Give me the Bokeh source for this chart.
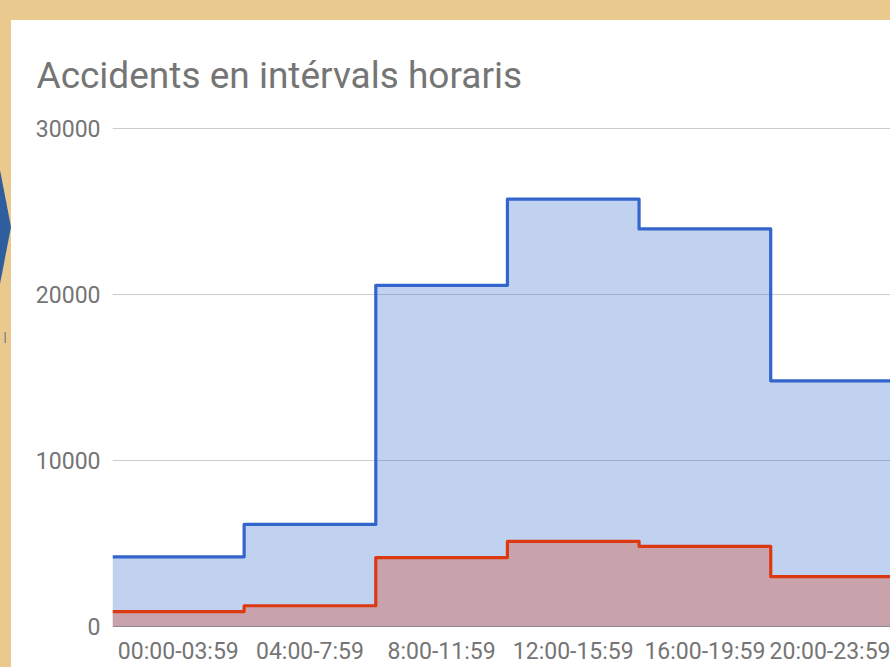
from bokeh.plotting import figure
from bokeh.models import FixedTicker, Span, Range1d, Div
from bokeh.layouts import row
from bokeh.embed import file_html
from bokeh.resources import INLINE

categories = ["00:00-03:59", "04:00-7:59", "8:00-11:59", "12:00-15:59", "16:00-19:59", "20:00-23:59"]
total = [4200, 6150, 20550, 25750, 23950, 14800]
serious = [900, 1250, 4150, 5130, 4830, 3000]
y_ticks = [0, 10000, 20000, 30000]

edges = list(range(len(categories) + 1))
total_s = total + [total[-1]]
serious_s = serious + [serious[-1]]

TAN = "#E9C98D"
BLUE = "#3366CC"
RED = "#DC3912"
GRAY = "#757575"

p = figure(width=879, height=647, output_backend="svg", toolbar_location=None,
           x_range=Range1d(0, 5.91), y_range=Range1d(0, 30060),
           title="Accidents en intérvals horaris",
           min_border_left=101, min_border_right=0, min_border_top=107, min_border_bottom=40)
p.margin = (20, 0, 0, 0)
p.styles = {"background-color": "white"}
p.border_fill_color = "white"
p.background_fill_color = "white"
p.outline_line_color = None

p.title.text_font = "Roboto"
p.title.text_font_size = "37px"
p.title.text_font_style = "normal"
p.title.text_color = GRAY
p.title.align = "left"
p.title.offset = -76
p.title.standoff = 62

p.varea_step(x=edges, y1=0, y2=total_s, step_mode="after", fill_color=BLUE, fill_alpha=0.3)
p.varea_step(x=edges, y1=0, y2=serious_s, step_mode="after", fill_color=RED, fill_alpha=0.3)
p.add_layout(Span(location=0, dimension="width", line_color="#333333", line_width=1))
p.step(x=edges, y=total_s, mode="after", line_color=BLUE, line_width=3.2, line_join="round")
p.step(x=edges, y=serious_s, mode="after", line_color=RED, line_width=3.2, line_join="round")

p.yaxis.ticker = FixedTicker(ticks=y_ticks)
p.xaxis.ticker = FixedTicker(ticks=[i + 0.5 for i in range(len(categories))])
p.xaxis.major_label_overrides = {i + 0.5: c for i, c in enumerate(categories)}
for ax in (p.xaxis, p.yaxis):
    ax.axis_line_color = None
    ax.major_tick_line_color = None
    ax.minor_tick_line_color = None
    ax.major_tick_out = 0
    ax.major_tick_in = 0
    ax.major_label_text_font = "Roboto"
    ax.major_label_text_font_size = "23px"
    ax.major_label_text_color = GRAY
p.yaxis.major_label_standoff = 12
p.xaxis.major_label_standoff = 11
p.yaxis.formatter.use_scientific = False

p.xgrid.grid_line_color = None
p.ygrid.ticker = FixedTicker(ticks=y_ticks[1:])
p.ygrid.grid_line_color = "#CCCCCC"
p.ygrid.grid_line_width = 1

side = Div(text='<svg width="11" height="667" style="display:block">'
                '<polygon points="0,170 11,227 0,284" fill="#2E5E9E"/>'
                '<rect x="4.5" y="332" width="1.5" height="11" fill="#8A8A8A"/></svg>',
           width=11, height=667, margin=(0, 0, 0, 0))

layout = row(side, p, styles={"background-color": TAN})

open("out.html", "w").write(file_html(layout, INLINE))
